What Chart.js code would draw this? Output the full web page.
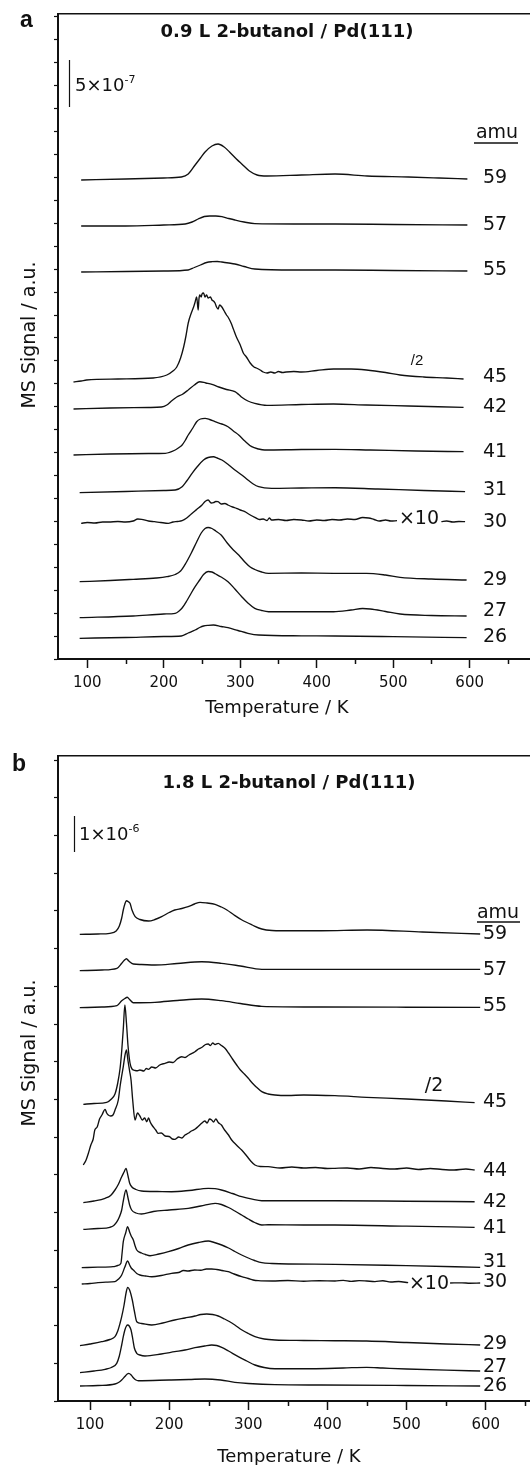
<!DOCTYPE html>
<html>
<head>
<meta charset="utf-8">
<script src="https://cdn.jsdelivr.net/npm/chart.js@4.4.1/dist/chart.umd.min.js"></script>
<style>
  html, body { margin:0; padding:0; background:#fff; width:530px; height:1465px; overflow:hidden; }
  canvas { position:absolute; left:0; }
  #pa { top:0; }
  #pb { top:742px; }
</style>
</head>
<body>
<canvas id="pa" width="560" height="742"></canvas>
<canvas id="pb" width="560" height="723"></canvas>
<script>
// TPD traces: [temperature K, stacked signal height a.u.]
// (height unit = 1 px of the 645 px tall frame, offsets included)

/* ---- panel a : 0.9 L ---- */
const a59 = [[92,479],[150,480],[200,481],[223,482],[232,485],[241,494],[248,501],[254,507],[263,513],[271,515],[279,512],[286,507],[295,500],[302,495],[312,488],[322,484],[335,483],[380,484],[424,485],[466,483],[520,482],[560,481],[597,480]];
const a57 = [[92,433],[150,433],[200,434],[228,435],[237,437],[245,440],[253,442.5],[260,443],[268,443],[276,442.3],[285,440.5],[293,439],[305,437],[319,435.3],[370,435],[424,435],[500,434.5],[597,434]];
const a55 = [[92,387],[150,387.5],[200,388],[232,389],[240,391.5],[248,394],[256,396.5],[263,397.3],[270,397.5],[276,397],[285,396],[293,395],[305,392.5],[319,390],[370,389],[424,389],[500,388.5],[597,388]];
const a45 = [[82,277],[92,278],[99,279],[140,280],[186,281],[204,284],[212,288],[217,292],[222,301],[226,312],[229,323],[232,336],[236,346],[239,352],[241,357],[243,362],[245,349],[246,360],[247,364],[249,362],[250,365],[252,366],[254,362],[256,364],[258,361],[261,362],[263,359],[265,358],[267,356],[269,352],[271,350],[273,354],[276,352],[279,348],[282,344],[284,342],[288,336],[291,330],[295,322],[300,314],[304,306],[308,302],[313,296],[318,292],[321,291],[326,289],[330,287],[335,286],[340,287],[345,286],[350,287.5],[355,286.5],[360,287],[370,287.5],[380,287],[400,288.5],[422,290],[445,290],[465,289],[490,286.5],[509,284],[540,282],[570,281],[592,280]];
const a42 = [[82,250],[130,251],[180,251.5],[197,252],[204,254],[210,258],[217,262],[224,264.5],[232,269],[240,274],[247,277.3],[255,276],[263,274.7],[272,272],[282,269.5],[293,267.3],[298,264.5],[302,261.7],[310,258],[319,255.7],[335,253.7],[380,254.5],[422,255],[465,254],[520,253],[592,251.7]];
const a41 = [[82,204],[130,205],[180,205.5],[202,205.7],[215,209],[220,211.5],[224,214],[228,218.5],[232,224],[238,231],[243,237.3],[248,240],[254,240.7],[260,239.5],[267,237.3],[276,235],[284,232.3],[291,228],[298,224],[306,218],[315,212.3],[324,210],[332,209],[380,209.5],[424,209.7],[470,209],[530,208],[592,207.3]];
const a31 = [[90,166.3],[150,167.5],[200,168.5],[215,169],[224,172.3],[230,178],[237,185.7],[244,192.5],[252,199],[258,201.5],[265,202.3],[270,201],[276,199],[285,194],[293,189],[302,184],[310,179],[317,175],[324,172.3],[341,170.7],[380,171],[424,171.3],[480,170],[540,168.5],[594,167.3]];
const a30 = [[92,135.7],[100,136.5],[110,136],[120,137],[128,137],[140,137.5],[150,137],[160,138],[166,140],[171,139.7],[180,138],[188,137.3],[196,136.5],[206,135.7],[212,137],[218,137.5],[224,138.3],[230,141],[236,145],[243,149.5],[250,154],[254,157.5],[258,159],[262,156],[265,156.3],[268,157.5],[271,157.3],[275,155],[280,155.5],[284,154],[290,152],[295,150.7],[300,149],[306,147.3],[312,144.5],[319,141.7],[325,139.5],[330,140],[335,138.5],[338,141],[341,139],[350,139.5],[360,138.5],[370,139.5],[380,139],[390,138],[400,139],[410,138.5],[420,139.5],[430,139],[440,140],[450,139.5],[460,141.5],[468,141],[475,139.5],[482,138],[490,139],[497,138],[505,138.3],[535,null],[563,137.3],[570,138],[578,137],[586,137.5],[594,137.3]];
const a29 = [[90,77.3],[130,78.5],[160,79.7],[190,81],[204,82.3],[215,84.5],[222,88],[229,96],[236,106],[243,117],[249,126],[254,130.5],[258,131.5],[263,130.5],[268,128],[275,124],[283,116],[291,109],[298,104],[306,97],[313,92],[319,89.5],[328,87],[337,85.7],[380,86],[422,85.7],[465,85.7],[490,84],[509,81.7],[550,80],[596,79]];
const a27 = [[90,41.3],[160,43],[200,45],[215,45.7],[220,48],[224,51],[230,58],[236,66],[241,72.3],[247,79],[252,84.5],[258,87.5],[263,87],[268,85],[275,82],[284,77.3],[293,70],[302,62.3],[310,56],[319,50.7],[328,48.5],[337,47.3],[380,47.3],[422,47.3],[445,49],[460,50.5],[470,50],[490,47.5],[509,45],[550,43.5],[596,43]];
const a26 = [[90,20.7],[150,21.5],[200,22.5],[223,23],[232,26],[241,29],[247,31.5],[252,33],[258,33.7],[265,34],[275,32.5],[284,31.3],[297,28.5],[310,25.7],[324,24],[380,23.2],[424,23],[500,22.3],[596,21.3]];

/* ---- panel b : 1.8 L ---- */
const b59 = [[87,466.7],[110,467],[125,467.7],[133,470],[137,475],[140,483],[142,491],[144,497],[146,500.3],[148,499.5],[150.5,497.7],[153,491],[157,484.3],[163,481.5],[174,480],[182,481.5],[190.5,484.3],[200,488.5],[207,491],[216,492.5],[224,494.3],[232,497],[239,498.7],[248,498],[258,496.7],[266,494],[273,491],[282,486],[292,481],[305,476],[317,472],[330,470.5],[342,470.3],[392,470.3],[450,471],[520,469],[593,467]];
const b57 = [[87,430.3],[115,431],[134,432.7],[140,437.7],[143,440.5],[146,442.3],[149,440],[154.7,437],[165,436.5],[182,436],[210,437.5],[241,439.3],[266,437.7],[290,435],[317,431.7],[392,431.7],[500,431.7],[593,431.7]];
const b55 = [[87,393.3],[115,394],[134,395.3],[140,400.3],[144,402.5],[147,403.7],[150,401.5],[154.7,398.3],[182,398.7],[210,400.5],[241,402],[266,400.3],[290,397.5],[317,394.7],[392,394],[500,393.8],[593,393.7]];
const b45 = [[91.5,296.7],[105,297.5],[121,298.7],[127,302],[131.5,307],[135,318],[138,333],[140,350],[142,372],[144,396],[146,378],[148,355],[150.5,338],[153,332],[157,330.5],[160,330.3],[163,331],[168,330],[171,332.5],[173.6,331.7],[178,334],[183,333],[188,336],[194.7,337.7],[200,339],[205,338.5],[210,342],[215.8,344.3],[220,343.5],[225,346],[232.6,349.3],[237,352],[242,354],[246,356.5],[249.4,357],[252,355.5],[255,358],[258,356.5],[262,357.7],[266,355.5],[270.5,352.7],[275,348],[280,342],[285.3,336],[290,331],[295,327],[300,322.7],[305,318],[310,314],[317,309.3],[325,307],[333.7,306],[350,305.5],[370,306],[409.5,305.3],[449.6,303.7],[500,302],[550,300],[586,298.3]];
const b44 = [[91.5,236],[95,241],[98,248],[101,256],[104,262],[106,271],[109,274],[112,282],[115,286],[119,291.7],[121,288],[123,286],[126,285],[129,286],[132,292],[135.7,301],[138,315],[140,325],[142,334.3],[144,345],[146,351],[148,340],[150,330],[151.8,321],[154,300],[156.8,281],[160,288],[163,285],[166,281],[169,283],[171.6,279.3],[174,283],[176,279],[179,275],[183,271],[186,267.7],[190,268],[195,265],[200,264.5],[204,262],[207,261.7],[212,264],[216,263],[220,266],[224,267.7],[228,270],[232,271.5],[236,274],[241,277.7],[245,280],[248,278],[251,282],[253.7,281],[256,279],[259,282],[262,278.5],[266,276],[270,271],[275,266],[279,261],[285,256],[291.6,251],[298,245],[303,240],[308.4,236],[315,234.5],[325,234.3],[340,233],[355,234],[370,233],[385,233.5],[400,232.5],[409.5,232.7],[425,233],[440,232],[455,233.5],[470,232.5],[485,232],[500,233],[515,231.5],[530,232.5],[545,231.5],[560,231],[575,232],[586,231]];
const b42 = [[91.5,198.3],[105,200],[119,202.7],[126,205.5],[131.5,211],[136,217],[140,224.3],[143,229],[145.4,232.7],[148,225],[150,218],[152.6,214.3],[158,211.5],[165,210],[185,209.5],[203,209.3],[225,210.5],[249.4,212.7],[258,212.3],[266,211],[280,207.5],[291.6,204.3],[305,201.8],[317,200.3],[350,200.3],[409.5,200.3],[500,199.8],[586,199.3]];
const b41 = [[91.5,171.7],[110,172.5],[125,173.7],[130,175.5],[134,179.3],[137,184],[140,191],[142,200],[145.4,211],[148,203],[150,196],[152.6,191],[158,188],[165,187],[180,189.5],[200,191],[224,192.7],[240,195],[258,197.7],[266,196.5],[275,193.5],[283,190],[291.6,186],[300,182],[308,178.5],[317,176],[325,176.3],[370,176],[409.5,176],[500,174.8],[586,173.7]];
const b31 = [[89.5,133.3],[110,133.8],[129,134.3],[135,135.5],[139,137.7],[140.5,148],[142,159.3],[145,168],[147.5,174.3],[150,169],[152,165],[154.7,161],[157,155],[159,151],[165,148],[170,146.5],[175.8,145.3],[187,147],[199,149.3],[212,152.5],[224,156],[237,158.5],[249.4,160],[257,158.5],[266.4,156],[275,153],[283,149.5],[291.6,146],[300,143],[308,140.5],[317,138.3],[330,137.5],[350.5,137],[409.5,136.7],[500,135.3],[593,133.7]];
const b30 = [[89.5,117],[100,117.5],[110,118.3],[120,118.8],[131.5,119.3],[136,122],[140,126],[144,134],[147.5,140],[150,136],[152,133],[154.7,131],[159,127.5],[163,126],[170,125],[178,124.3],[190,125.5],[203,127.7],[212,128.5],[218,130.5],[224,130],[232,131],[240,130.8],[247,132],[253.7,132],[260,131.5],[267,130.5],[274.7,129.3],[282,127],[291.6,124.3],[300,122.5],[306,121],[312.6,120.3],[330,120],[350,120.5],[370,119.8],[390,120.3],[409.5,120],[420,120.6],[430,119.6],[440,120.4],[449.6,120],[460,119.4],[470,120.3],[480,119],[490,119.5],[502,118.3],[530,null],[555,118],[570,118.2],[580,117.8],[593,118]];
const b29 = [[87.3,55.3],[100,57],[114.7,59.3],[125,61.5],[131.5,64.3],[135,70],[138,78],[140,84.3],[143,96],[145.5,108],[147.5,113.7],[150,111],[153.4,101],[156,90],[159,79.3],[165,77.5],[178,76],[192,78],[207,81],[220,83],[232.6,85],[240,86.5],[247.4,87],[255,86.5],[262,85],[270,82],[276,79.5],[283,76],[292,71],[300,67.5],[308.4,64.3],[320,62],[333.7,61],[370,60.5],[409.5,60.3],[449.6,60],[500,58.5],[550,57],[593,56]];
const b27 = [[87.3,28.3],[105,30],[119,31.7],[127,33.5],[133.7,37.7],[137,45],[140,56],[142,64.3],[144,71],[146,75],[147.5,76],[149.5,75],[151.8,71],[154,62],[156,53],[159,47.7],[163,46],[169.4,45],[190,47],[207,49.3],[220,51],[232.6,53.3],[245,55],[253.7,56],[260,55.5],[266.4,53.7],[275,50],[287.3,44.3],[298,40],[308.4,36],[320,33.5],[333.7,32.3],[380,32.3],[420,33],[449.6,33.7],[470,33],[500,32],[550,30.8],[593,30]];
const b26 = [[87.3,15],[110,15.5],[131.5,17],[136,18.5],[140,21],[144,24.5],[147,27],[149,27.7],[152,26],[155,23],[158,21],[161,20.3],[200,21],[225,21.5],[245,22],[265,21],[283,18.7],[300,17.5],[333.7,16.3],[392,16],[500,15.5],[593,15]];

const MASS_A = ['59','57','55','45','42','41','31','30','29','27','26'];
const SERIES_A = [a59,a57,a55,a45,a42,a41,a31,a30,a29,a27,a26];
const MASS_B = ['59','57','55','45','44','42','41','31','30','29','27','26'];
const SERIES_B = [b59,b57,b55,b45,b44,b42,b41,b31,b30,b29,b27,b26];

const X_TICKS = [100,200,300,400,500,600];
const X_MINOR = [150,250,350,450,550,650];

const INK  = '#111';
const FONT = '"DejaVu Sans", sans-serif';

// where the free text sits on each canvas (px)
const LAYOUT = {
  pa: {
    letter: ['a', 20, 27], title: ['0.9 L 2-butanol / Pd(111)', 287, 37],
    bar: { x: 69, y0: 60, y1: 107, tx: 75, ty: 91, base: '5\u00d710', exp: '-7' },
    ylab: [30, 335], xlab: [277, 713],
    amu: { x: 497, y: 138, u0: 474, u1: 518, uy: 143 },
    labX: 483, labY: [178.5,225,270,377,407,452,490,522,580,611,637],
    half: { x: 417, y: 361, font: '15px "Liberation Sans", sans-serif' },
    ten: { x: 419, y: 519 },
  },
  pb: {
    letter: ['b', 12, 29], title: ['1.8 L 2-butanol / Pd(111)', 289, 46],
    bar: { x: 74, y0: 74, y1: 110, tx: 79, ty: 98, base: '1\u00d710', exp: '-6' },
    ylab: [30, 311], xlab: [289, 720],
    amu: { x: 498, y: 176, u0: 477, u1: 520, uy: 180 },
    labX: 483, labY: [192,228,264,360,429,460,486,520,540,602,625,644],
    half: { x: 434, y: 344, font: '19px ' + FONT },
    ten: { x: 429, y: 542 },
  },
};

function txt(ctx, s, x, y, font, align, base) {
  ctx.font = font;
  ctx.textAlign = align || 'left';
  ctx.textBaseline = base || 'alphabetic';
  ctx.fillText(s, x, y);
}

const figText = {
  id: 'figText',
  afterDraw(chart) {
    const L = LAYOUT[chart.canvas.id];
    const ctx = chart.ctx;
    const xs = chart.scales.x, bottom = chart.chartArea.bottom;
    ctx.save();
    ctx.fillStyle = INK;
    ctx.strokeStyle = INK;

    // minor ticks on the temperature axis
    ctx.lineWidth = 1.5;
    X_MINOR.forEach(v => {
      if (v < xs.min || v > xs.max) return;
      const px = Math.round(xs.getPixelForValue(v)) + 0.5;
      ctx.beginPath(); ctx.moveTo(px, bottom); ctx.lineTo(px, bottom + 5); ctx.stroke();
    });

    txt(ctx, L.letter[0], L.letter[1], L.letter[2], 'bold 23px "Liberation Sans", sans-serif');
    txt(ctx, L.title[0], L.title[1], L.title[2], 'bold 18px ' + FONT, 'center');

    // scale bar
    ctx.lineWidth = 1.2;
    ctx.beginPath(); ctx.moveTo(L.bar.x + 0.5, L.bar.y0); ctx.lineTo(L.bar.x + 0.5, L.bar.y1); ctx.stroke();
    txt(ctx, L.bar.base, L.bar.tx, L.bar.ty, '18px ' + FONT);
    const w = ctx.measureText(L.bar.base).width;
    txt(ctx, L.bar.exp, L.bar.tx + w, L.bar.ty - 8, '11px ' + FONT);

    // axis titles
    txt(ctx, 'Temperature / K', L.xlab[0], L.xlab[1], '18px ' + FONT, 'center');
    ctx.save();
    ctx.translate(L.ylab[0], L.ylab[1]);
    ctx.rotate(-Math.PI / 2);
    txt(ctx, 'MS Signal / a.u.', 0, 0, '19px ' + FONT, 'center', 'middle');
    ctx.restore();

    // mass labels
    txt(ctx, 'amu', L.amu.x, L.amu.y, '19px ' + FONT, 'center');
    ctx.lineWidth = 1.3;
    ctx.beginPath(); ctx.moveTo(L.amu.u0, L.amu.uy); ctx.lineTo(L.amu.u1, L.amu.uy); ctx.stroke();
    const masses = chart.data.datasets.map(d => d.label);
    masses.forEach((m, i) => txt(ctx, m, L.labX, L.labY[i], '19px ' + FONT, 'left', 'middle'));

    txt(ctx, '/2', L.half.x, L.half.y, L.half.font, 'center', 'middle');
    txt(ctx, '\u00d710', L.ten.x, L.ten.y, '19px ' + FONT, 'center', 'middle');
    ctx.restore();
  }
};

function tpdPanel(id, masses, series, xMin, xMax, yStep) {
  const ctx = document.getElementById(id)?.getContext('2d');
  if (!ctx) return;
  const yTicks = [];
  for (let v = 0; v <= 645; v += yStep) yTicks.push(v);
  new Chart(ctx, {
    type: 'line',
    data: {
      datasets: series.map((s, i) => ({
        label: masses[i],
        data: s.map(([x, y]) => ({ x, y })),
        borderColor: INK, borderWidth: 1.35,
        pointRadius: 0, fill: false, spanGaps: false,
        cubicInterpolationMode: 'monotone',
      })),
    },
    options: {
      responsive: false, animation: false, events: [],
      layout: { padding: { top: 14, right: 14, bottom: 0, left: 0 } },
      plugins: { legend: { display: false }, tooltip: { enabled: false } },
      scales: {
        x: {
          type: 'linear', position: 'bottom', min: xMin, max: xMax,
          afterBuildTicks: s => { s.ticks = X_TICKS.map(v => ({ value: v })); },
          afterFit: s => { s.height = s.chart.height - 659; },
          ticks: { color: INK, font: { size: 15, family: FONT }, padding: 6, maxRotation: 0, autoSkip: false },
          grid: { drawOnChartArea: false, drawTicks: true, tickLength: 9, tickWidth: 1.5, tickColor: INK },
          border: { display: true, color: INK, width: 2 },
        },
        xt: {
          type: 'linear', position: 'top', min: xMin, max: xMax,
          afterFit: s => { s.height = 0; },
          ticks: { display: false },
          grid: { display: false },
          border: { display: true, color: INK, width: 1.5 },
        },
        y: {
          type: 'linear', position: 'left', min: 0, max: 645,
          afterBuildTicks: s => { s.ticks = yTicks.map(v => ({ value: v })); },
          afterFit: s => { s.width = 58; },
          ticks: { display: false },
          grid: { drawOnChartArea: false, drawTicks: true, tickLength: 4, tickWidth: 1.2, tickColor: INK },
          border: { display: true, color: INK, width: 2 },
        },
      },
    },
    plugins: [figText],
  });
}

tpdPanel('pa', MASS_A, SERIES_A, 61.7, 699.8, 22.93);
tpdPanel('pb', MASS_B, SERIES_B, 59.5, 676.2, 37.7);
</script>
</body>
</html>
